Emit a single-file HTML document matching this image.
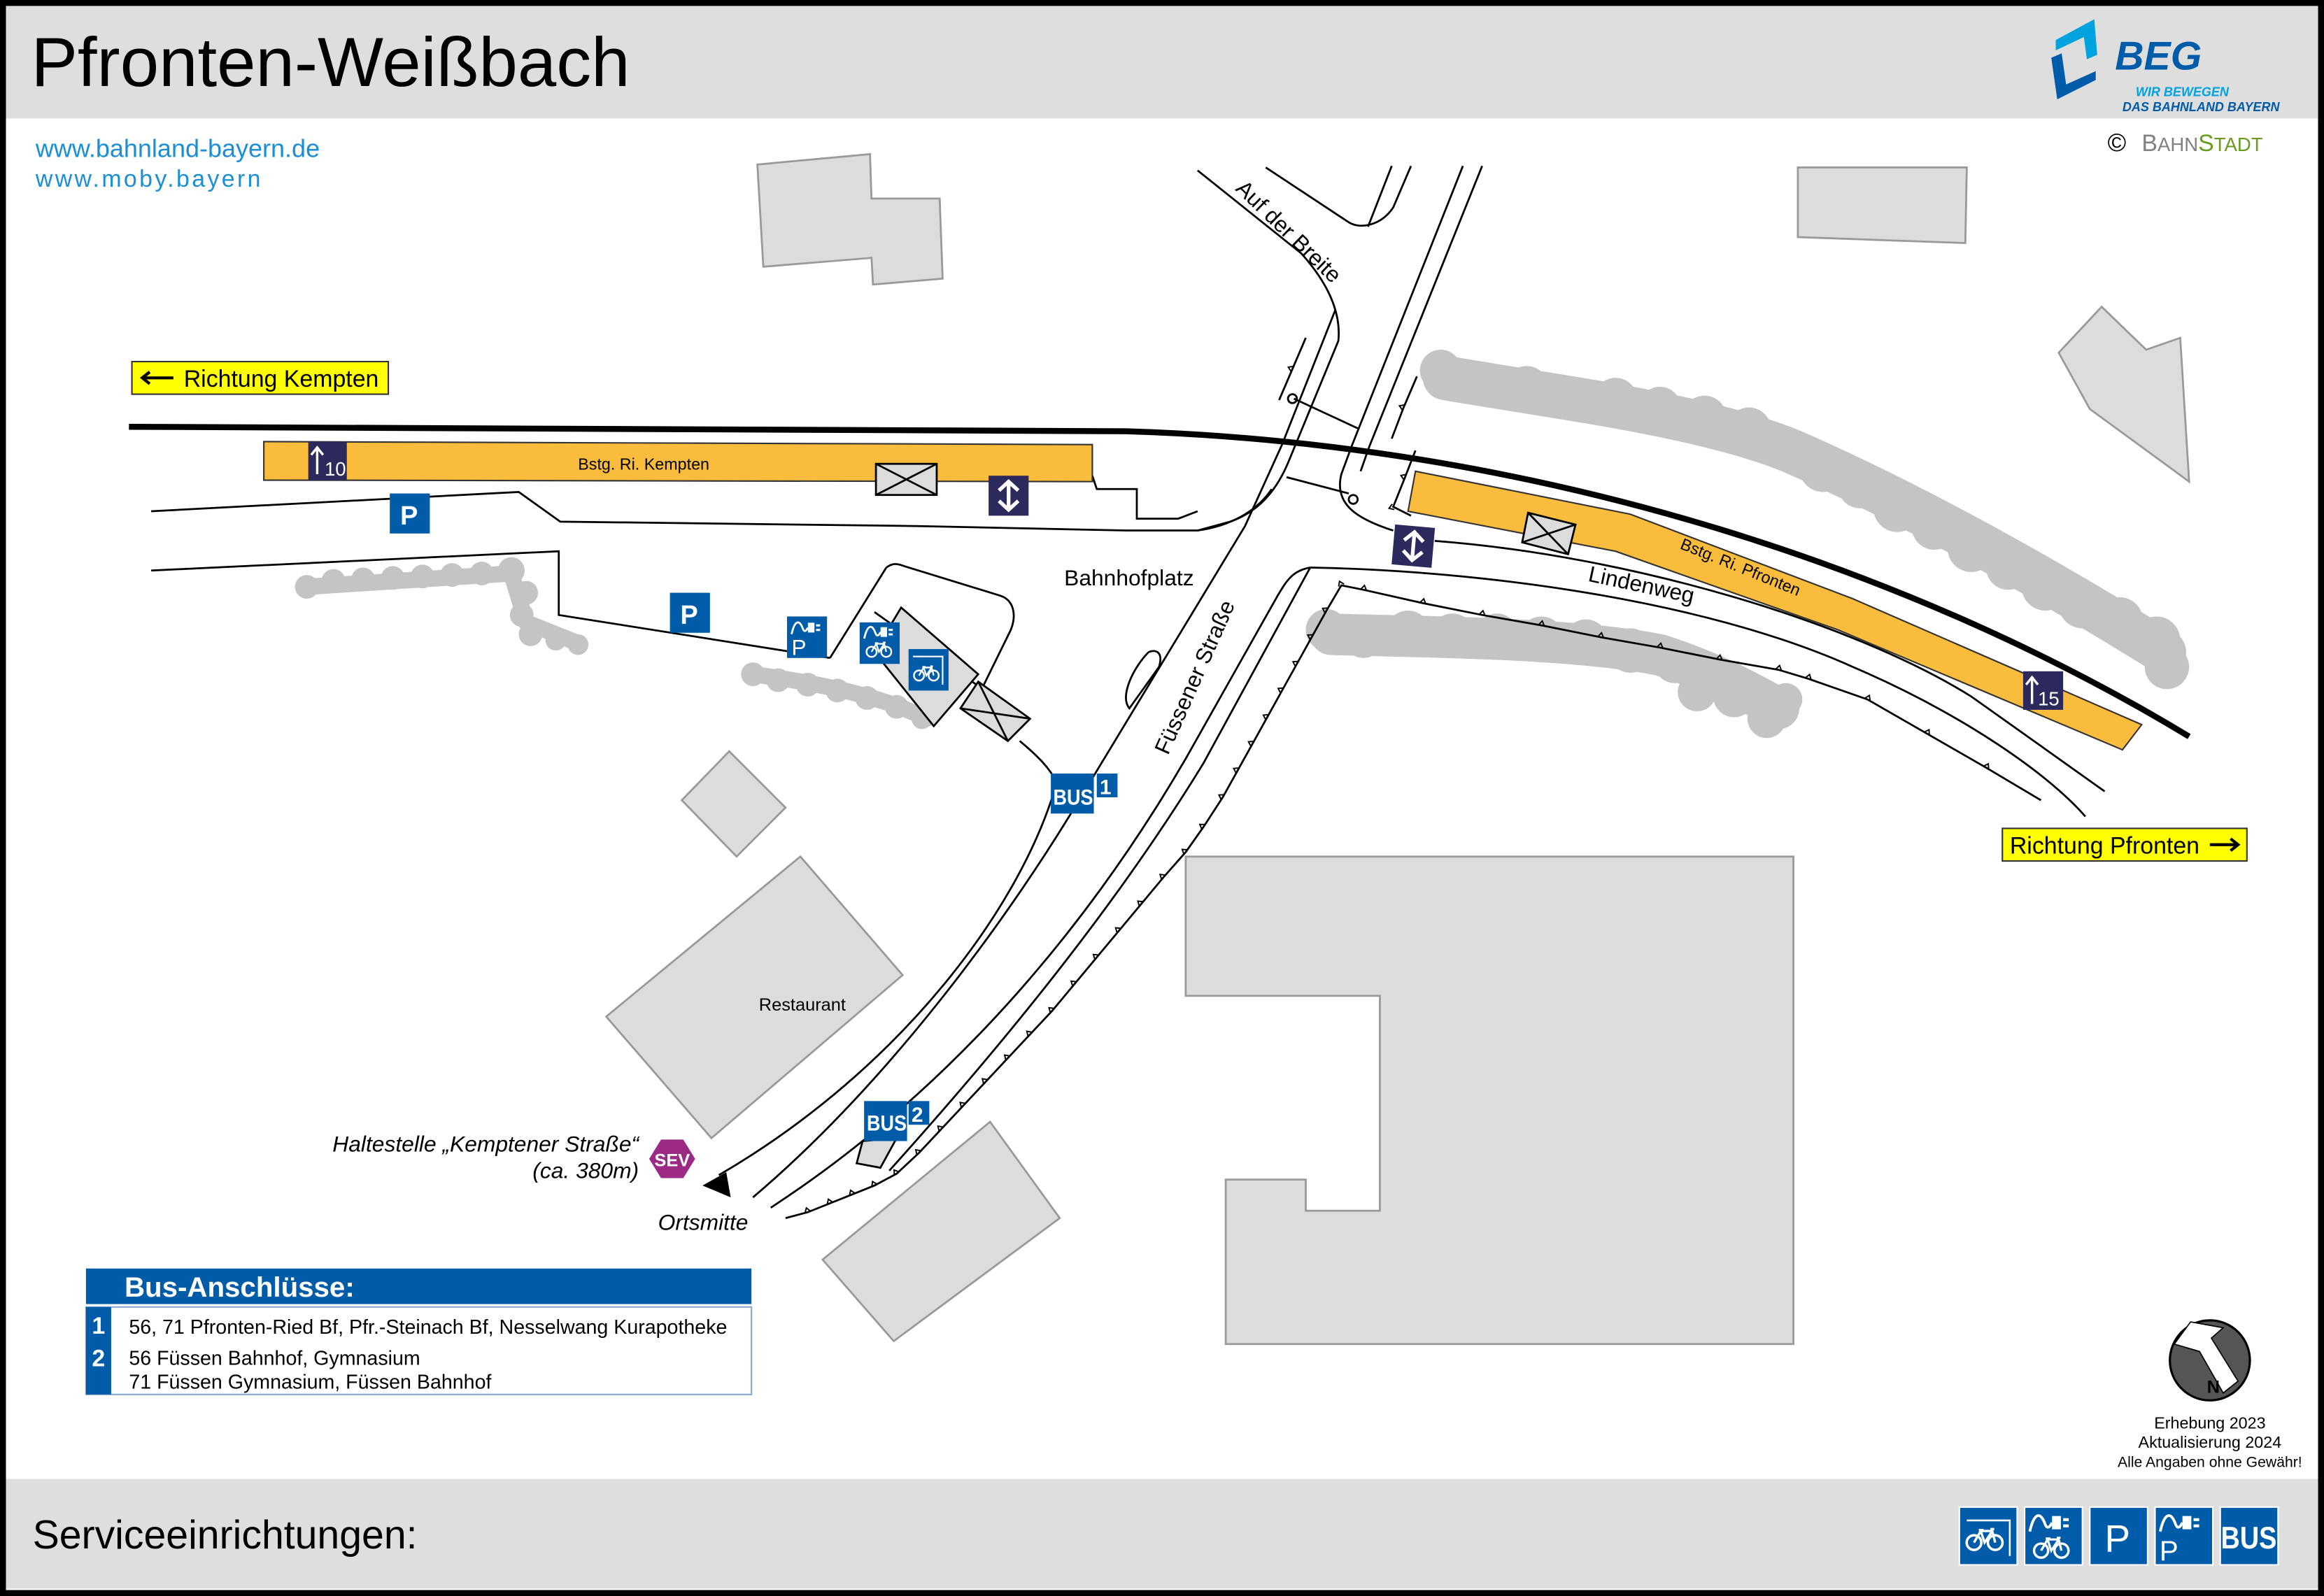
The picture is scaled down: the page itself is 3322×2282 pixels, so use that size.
<!DOCTYPE html>
<html><head><meta charset="utf-8"><style>
html,body{margin:0;padding:0;background:#fff;}
svg{display:block;}
text{font-family:"Liberation Sans",Arial,sans-serif;}
</style></head><body>
<svg width="3322" height="2282" viewBox="0 0 1568 1077" preserveAspectRatio="none" xmlns="http://www.w3.org/2000/svg">
<defs>
<marker id="tk" markerWidth="8" markerHeight="8" refX="4" refY="4" orient="auto" markerUnits="userSpaceOnUse">
<path d="M2,4 L4,7 L6,4" fill="none" stroke="#000" stroke-width="0.9"/>
</marker>
<symbol id="bike" viewBox="0 0 20 12">
<circle cx="4.5" cy="7.5" r="3.8" fill="none" stroke="#fff" stroke-width="1.3"/>
<circle cx="15.5" cy="7.5" r="3.8" fill="none" stroke="#fff" stroke-width="1.3"/>
<path d="M4.5,7.5 L8,1.5 L14,1.5 L15.5,7.5 M8,1.5 L10,7.5 L14,1.5 M7,1 L9.5,1 M13,0.5 L15,0.5" fill="none" stroke="#fff" stroke-width="1.2"/>
</symbol>
<symbol id="plug" viewBox="0 0 20 10">
<path d="M1,9 C3,0 6,0 8,6 C9,8 10,7 11,5" fill="none" stroke="#fff" stroke-width="1.2"/>
<path d="M11,2 L15,2 L15,8 L11,8 Z" fill="#fff"/>
<rect x="16" y="3" width="2.5" height="1.3" fill="#fff"/><rect x="16" y="5.8" width="2.5" height="1.3" fill="#fff"/>
</symbol>
</defs>
<rect x="0" y="0" width="1568" height="1077" fill="#fff"/>
<rect x="4" y="4" width="1560" height="76" fill="#dedede"/>
<rect x="4" y="998" width="1560" height="74" fill="#dedede"/>
<rect x="2" y="2" width="1564" height="1073" fill="none" stroke="#000" stroke-width="4"/>
<text x="21" y="58" font-size="47">Pfronten-Weißbach</text>
<text x="22" y="1045" font-size="27">Serviceeinrichtungen:</text>
<text x="24" y="106" font-size="17" fill="#1a8fd6">www.bahnland-bayern.de</text>
<text x="24" y="126" font-size="16" fill="#1a8fd6" letter-spacing="1.6">www.moby.bayern</text>
<polygon points="1387,27 1413,13 1415,37 1408,40 1406,25 1387,34" fill="#00a3e0"/>
<polygon points="1384,39 1391,36 1394,57 1414,48 1414,54 1388,67" fill="#005ca9"/>
<text x="1427" y="47" font-size="27" font-weight="bold" font-style="italic" fill="#005ca9">BEG</text>
<text x="1441" y="65" font-size="8.5" font-weight="bold" font-style="italic" fill="#00a3e0">WIR BEWEGEN</text>
<text x="1432" y="75" font-size="8.5" font-weight="bold" font-style="italic" fill="#005ca9">DAS BAHNLAND BAYERN</text>
<text x="1422" y="102" font-size="17" fill="#000">©</text>
<text x="1445" y="102" font-size="16" fill="#808080">B<tspan font-size="13">AHN</tspan><tspan fill="#6a9a1f" font-size="16">S</tspan><tspan fill="#6a9a1f" font-size="13">TADT</tspan></text>
<g fill="#dcdcdc" stroke="#999" stroke-width="1.3">
<polygon points="511,111 587,104 588,134 634,134 636,188 589,192 588,174 515,180"/>
<polygon points="1213,113 1327,113 1326,164 1213,160"/>
<polygon points="1389,238 1418,207 1448,236 1471,228 1477,325 1410,276"/>
<polygon points="460,540 492,507 530,545 497,578"/>
<polygon points="409,686 540,578 609,658 480,768"/>
<polygon points="555,850 668,757 715,822 603,905"/>
<polygon points="800,578 1210,578 1210,907 827,907 827,796 881,796 881,817 931,817 931,672 800,672"/>
</g>
<!-- trees -->
<g stroke="#c4c4c4" fill="none" stroke-linecap="round" stroke-linejoin="round">
<path d="M975,255 C1050,268 1150,280 1210,305 C1290,340 1380,390 1460,440" stroke-width="30"/>
<path d="M898,428 C960,430 1060,430 1120,442 C1160,455 1185,470 1200,478" stroke-width="28"/>
<path d="M207,396 L345,387 L355,420 L390,434" stroke-width="11"/>
<path d="M508,455 C560,462 600,472 625,485" stroke-width="11"/>
</g>
<g fill="#c4c4c4">
<circle cx="972" cy="250" r="14"/><circle cx="1000" cy="258" r="14"/><circle cx="1030" cy="262" r="15"/><circle cx="1060" cy="268" r="14"/><circle cx="1090" cy="270" r="15"/><circle cx="1120" cy="275" r="14"/><circle cx="1150" cy="282" r="15"/><circle cx="1180" cy="290" r="15"/><circle cx="1205" cy="303" r="15"/><circle cx="1230" cy="316" r="16"/><circle cx="1255" cy="328" r="15"/><circle cx="1280" cy="343" r="16"/><circle cx="1305" cy="356" r="15"/><circle cx="1330" cy="370" r="16"/><circle cx="1355" cy="383" r="15"/><circle cx="1380" cy="396" r="16"/><circle cx="1405" cy="408" r="16"/><circle cx="1430" cy="419" r="16"/><circle cx="1455" cy="432" r="16"/><circle cx="1462" cy="450" r="15"/>
<circle cx="895" cy="425" r="14"/><circle cx="920" cy="430" r="14"/><circle cx="950" cy="427" r="15"/><circle cx="980" cy="429" r="15"/><circle cx="1010" cy="429" r="15"/><circle cx="1040" cy="431" r="15"/><circle cx="1070" cy="433" r="15"/><circle cx="1100" cy="439" r="15"/><circle cx="1130" cy="447" r="14"/><circle cx="1145" cy="467" r="13"/><circle cx="1170" cy="470" r="14"/><circle cx="1192" cy="485" r="13"/><circle cx="1205" cy="472" r="11"/>
<circle cx="207" cy="396" r="8"/><circle cx="225" cy="392" r="8"/><circle cx="245" cy="391" r="8"/><circle cx="265" cy="390" r="8"/><circle cx="285" cy="389" r="8"/><circle cx="305" cy="388" r="8"/><circle cx="325" cy="387" r="8"/><circle cx="345" cy="385" r="9"/><circle cx="355" cy="400" r="8"/><circle cx="352" cy="415" r="8"/><circle cx="358" cy="428" r="8"/><circle cx="375" cy="432" r="7"/><circle cx="390" cy="435" r="7"/>
<circle cx="508" cy="455" r="8"/><circle cx="525" cy="459" r="8"/><circle cx="545" cy="462" r="8"/><circle cx="565" cy="466" r="8"/><circle cx="585" cy="471" r="8"/><circle cx="605" cy="477" r="8"/><circle cx="622" cy="485" r="7"/>
</g>
<g fill="none" stroke="#000" stroke-width="1.3">
<path d="M102,345 L350,332 L378,352 L620,355 L760,358 L808,358 C830,355 848,345 858,330"/>
<path d="M737,321 L740,330 L767,330 L767,350 L795,350 L808,345"/>
<path d="M102,385 L377,372 L377,415 L560,444"/>
<path d="M854,113 L910,150 C918,155 932,152 940,140 L952,112"/>
<path d="M939,112 L923,153"/>
<path d="M808,115 L878,171 C895,190 905,210 903,230 L870,310 C862,330 850,345 830,352 L808,358"/>
<path d="M901,209 L865,300 L840,355 L728,540 C680,620 600,730 508,808"/>
<path d="M987,112 L912,301 L905,320 C900,340 915,350 940,358"/>
<path d="M1000,112 L924,301 L918,318"/>
<path d="M873,269 L916,289"/>
<circle cx="872" cy="269" r="3"/><circle cx="913" cy="337" r="3"/>
<path d="M868,322 L910,333"/>
<path d="M598,383 C602,380 605,380 610,382 L675,402 C684,405 686,415 682,425 L656,478"/>
<path d="M598,383 L560,444"/>
<path d="M590,413 L670,470"/>
<path d="M688,500 C700,510 708,518 713,528 C690,610 610,720 485,793"/>
<path d="M775,440 C765,450 755,470 762,478 L782,450 C785,440 780,438 775,440"/>
<path d="M968,365 C1100,375 1250,420 1330,470 L1420,534"/>
<path d="M884,383 C1000,385 1150,405 1250,450 C1320,480 1380,520 1407,551"/>
<path d="M884,383 C872,385 868,392 862,402 L800,512 C740,615 650,730 520,815"/>
<path d="M884,383 L812,515 C760,600 690,690 600,790"/>
</g>
<polyline fill="none" stroke="#000" stroke-width="1.3" marker-mid="url(#tk)" points="1377,540 1340,518 1300,495 1260,472 1220,458 1200,452 1160,445 1120,437 1080,430 1040,422 1000,415 960,407 920,398 905,395 895,412 885,430 875,448 865,466 855,484 845,502 835,520 825,538 812,558 800,575 785,592 770,610 755,628 740,646 725,664 710,682 695,698 680,714 665,730 650,746 635,762 620,778 605,792 590,800 575,806 560,812 545,818 530,822"/>
<polyline fill="none" stroke="#000" stroke-width="1.3" marker-mid="url(#tk)" points="881,228 872,249 863,270"/>
<polyline fill="none" stroke="#000" stroke-width="1.3" marker-mid="url(#tk)" points="956,254 947,275 939,296"/>
<polyline fill="none" stroke="#000" stroke-width="1.3" marker-mid="url(#tk)" points="955,304 948,322 940,342 952,348"/>
<path d="M87,288 L760,291 C1050,300 1300,390 1477,497" fill="none" stroke="#000" stroke-width="4"/>
<polygon points="178,298 737,300 737,325 178,324" fill="#f9bc3d" stroke="#333" stroke-width="1"/>
<polygon points="955,318 1100,347 1250,404 1445,489 1432,506 1240,425 1090,372 950,345" fill="#f9bc3d" stroke="#333" stroke-width="1"/>
<text x="390" y="317" font-size="11">Bstg. Ri. Kempten</text>
<text x="1133" y="370" font-size="11" transform="rotate(22 1133 370)">Bstg. Ri. Pfronten</text>
<g fill="#dcdcdc" stroke="#000" stroke-width="1.3">
<rect x="591" y="313" width="41" height="21"/><path d="M591,313 L632,334 M632,313 L591,334" fill="none"/>
<polygon points="1031,346 1063,354 1058,374 1027,366"/><path d="M1031,346 L1058,374 M1063,354 L1027,366" fill="none"/>
<polygon points="608,410 660,455 630,490 590,440"/>
<polygon points="660,460 695,485 680,500 648,478"/><path d="M660,460 L680,500 M695,485 L648,478" fill="none"/>
<polygon points="582,770 605,768 594,788 578,785"/>
</g>
<rect x="208" y="298" width="26" height="26" fill="#2c2a5c"/>
<path d="M214,320 L214,302 M210,307 L214,302 L218,307" stroke="#fff" stroke-width="1.6" fill="none"/><text x="219" y="321" font-size="13" fill="#fff">10</text>
<rect x="1365" y="453" width="27" height="26" fill="#2c2a5c"/>
<path d="M1371,475 L1371,457 M1367,462 L1371,457 L1375,462" stroke="#fff" stroke-width="1.6" fill="none"/><text x="1375" y="476" font-size="13" fill="#fff">15</text>
<rect x="667" y="321" width="27" height="27" fill="#2c2a5c"/>
<path d="M680.5,325 L680.5,344 M674,331 L680.5,325 L687,331 M674,338 L680.5,344 L687,338" stroke="#fff" stroke-width="2.5" fill="none"/>
<g transform="rotate(5 953 369)"><rect x="940" y="355" width="27" height="27" fill="#2c2a5c"/>
<path d="M953.5,359 L953.5,378 M947,365 L953.5,359 L960,365 M947,372 L953.5,378 L960,372" stroke="#fff" stroke-width="2.5" fill="none"/></g>
<g fill="#005ca9">
<rect x="263" y="333" width="27" height="27"/><rect x="452" y="400" width="27" height="27"/>
<rect x="531" y="416" width="27" height="28"/><rect x="580" y="420" width="27" height="28"/><rect x="613" y="438" width="27" height="28"/>
<rect x="709" y="522" width="29" height="27"/><rect x="740" y="522" width="14" height="16"/>
<rect x="583" y="743" width="29" height="27"/><rect x="613" y="743" width="14" height="16"/>
</g>
<g fill="#fff" font-weight="bold">
<text x="270" y="354" font-size="18">P</text><text x="459" y="421" font-size="18">P</text>
<text x="711" y="543" font-size="15" transform="scale(0.85 1) translate(125 0)">BUS</text><text x="742" y="536" font-size="14">1</text>
<text x="585" y="763" font-size="15" transform="scale(0.85 1) translate(103 0)">BUS</text><text x="615" y="757" font-size="14">2</text>
</g>
<text x="534" y="442" font-size="15" fill="#fff">P</text>
<use href="#plug" x="533" y="418" width="22" height="11"/>
<use href="#plug" x="582" y="421" width="22" height="11"/>
<use href="#bike" x="584" y="433" width="18" height="11"/>
<use href="#bike" x="616" y="449" width="18" height="11"/>
<path d="M616,443 L636,443 L636,462" stroke="#fff" fill="none" stroke-width="1"/>
<text x="718" y="395" font-size="15">Bahnhofplatz</text>
<text x="1071" y="392" font-size="15" transform="rotate(12 1071 392)">Lindenweg</text>
<text x="833" y="128" font-size="15" transform="rotate(44 833 128)">Auf der Breite</text>
<text x="788" y="510" font-size="15" transform="rotate(-66 788 510)">Füssener Straße</text>
<text x="512" y="682" font-size="12">Restaurant</text>
<text x="431" y="777" font-size="15" font-style="italic" text-anchor="end">Haltestelle „Kemptener Straße“</text>
<text x="431" y="795" font-size="15" font-style="italic" text-anchor="end">(ca. 380m)</text>
<polygon points="446,769 461,769 469,782 461,795 446,795 438,782" fill="#9b2a84"/>
<text x="453.5" y="787" font-size="12" fill="#fff" font-weight="bold" text-anchor="middle">SEV</text>
<polygon points="474,800 490,791 493,808" fill="#000"/>
<text x="444" y="830" font-size="15" font-style="italic">Ortsmitte</text>
<rect x="89" y="244" width="173" height="22" fill="#ffff00" stroke="#333" stroke-width="1"/>
<path d="M96,255 L117,255 M101,251 L96,255 L101,259" stroke="#000" stroke-width="2" fill="none"/>
<text x="124" y="261" font-size="16">Richtung Kempten</text>
<rect x="1351" y="559" width="165" height="22" fill="#ffff00" stroke="#333" stroke-width="1"/>
<text x="1356" y="576" font-size="16">Richtung Pfronten</text>
<path d="M1491,570 L1510,570 M1505,566 L1510,570 L1505,574" stroke="#000" stroke-width="2" fill="none"/>
<rect x="58" y="856" width="449" height="24" fill="#005ca9"/>
<text x="84" y="875" font-size="19" font-weight="bold" fill="#fff">Bus-Anschlüsse:</text>
<rect x="58" y="882" width="449" height="59" fill="#fff" stroke="#8aa8cc" stroke-width="1"/>
<rect x="58" y="882" width="17" height="59" fill="#005ca9"/>
<text x="62" y="900" font-size="16" font-weight="bold" fill="#fff">1</text>
<text x="62" y="922" font-size="16" font-weight="bold" fill="#fff">2</text>
<text x="87" y="900" font-size="13.5">56, 71 Pfronten-Ried Bf, Pfr.-Steinach Bf, Nesselwang Kurapotheke</text>
<text x="87" y="921" font-size="13.5">56 Füssen Bahnhof, Gymnasium</text>
<text x="87" y="937" font-size="13.5">71 Füssen Gymnasium, Füssen Bahnhof</text>
<circle cx="1491" cy="918" r="27" fill="#555" stroke="#000" stroke-width="1.5"/>
<polygon points="1467,907 1478,892 1500,896 1492,903 1510,932 1500,940 1484,912" fill="#fff" stroke="#000" stroke-width="0.8"/>
<text x="1489" y="940" font-size="12" font-weight="bold">N</text>
<text x="1491" y="964" font-size="11" text-anchor="middle">Erhebung 2023</text>
<text x="1491" y="977" font-size="11" text-anchor="middle">Aktualisierung 2024</text>
<text x="1491" y="990" font-size="10" text-anchor="middle">Alle Angaben ohne Gewähr!</text>
<g fill="#005ca9" stroke="#fff" stroke-width="1">
<rect x="1322" y="1017" width="39" height="39"/><rect x="1366" y="1017" width="39" height="39"/>
<rect x="1410" y="1017" width="39" height="39"/><rect x="1454" y="1017" width="39" height="39"/>
<rect x="1498" y="1017" width="39" height="39"/>
</g>
<use href="#bike" x="1326" y="1031" width="26" height="16"/>
<path d="M1327,1026 L1356,1026 L1356,1050" stroke="#fff" fill="none" stroke-width="1.2"/>
<use href="#plug" x="1368" y="1020" width="30" height="15"/>
<use href="#bike" x="1371" y="1037" width="26" height="15"/>
<use href="#plug" x="1456" y="1020" width="30" height="15"/>
<g fill="#fff">
<text x="1420" y="1047" font-size="26">P</text><text x="1457" y="1053" font-size="19">P</text>
<text x="1517" y="1045" font-size="21" font-weight="bold" text-anchor="middle" transform="scale(0.85 1) translate(268 0)">BUS</text>
</g>
</svg>
</body></html>
